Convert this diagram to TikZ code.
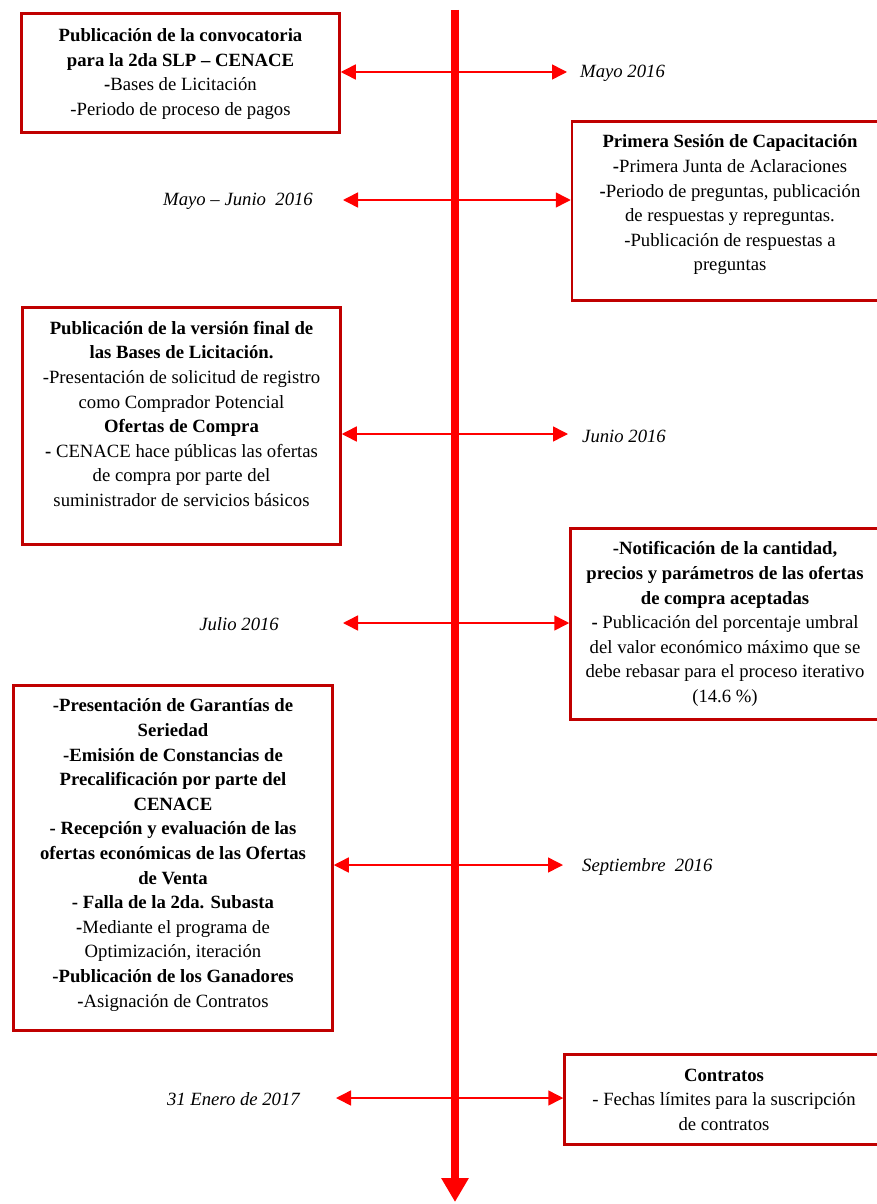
\documentclass[tikz,border=0pt]{standalone}
\usepackage{fontspec}
\setmainfont{Liberation Serif}
\usetikzlibrary{arrows.meta}
\definecolor{boxred}{RGB}{192,0,0}
\definecolor{spinered}{RGB}{255,0,0}

\begin{document}
\begin{tikzpicture}[x=1pt,y=-1pt,
  stage/.style={draw=boxred, line width=2.5pt, inner sep=0pt},
  txt/.style={align=center, inner sep=0pt, font=\fontsize{18.7}{24.6}\selectfont},
  date/.style={inner sep=0pt, font=\fontsize{18.7}{20}\selectfont\itshape},
  link/.style={draw=spinered, line width=1.5pt,
    {Triangle[length=15pt,width=15pt]}-{Triangle[length=15pt,width=15pt]}},
  spine/.style={draw=spinered, line width=8pt,
    -{Triangle[length=24pt,width=26pt]}}]

\useasboundingbox (0,0) rectangle (877,1204);

% time axis
\coordinate (top) at (455,10);
\coordinate (bottom) at (455,1202);
\draw[spine] (top) -- (bottom);

% stage boxes
\node[stage, minimum width=318pt, minimum height=119pt] (b1) at (180.5,73) {};
\node[stage, minimum width=316pt, minimum height=179pt] (b2) at (730,211) {};
\node[stage, minimum width=318pt, minimum height=237pt] (b3) at (181.5,426) {};
\node[stage, minimum width=309pt, minimum height=191pt] (b4) at (725,624) {};
\node[stage, minimum width=319pt, minimum height=345pt] (b5) at (173,858) {};
\node[stage, minimum width=319pt, minimum height=90pt] (b6) at (724,1099.5) {};

% box texts
\node[txt] (t1) at ([yshift=-1pt]b1.center) {\textbf{Publicación de la convocatoria}\\
  \textbf{para la 2da SLP – CENACE}\\
  \textbf{-}Bases de Licitación\\
  -Periodo de proceso de pagos};
\node[txt] (t2) at ([yshift=6pt]b2.center) {\textbf{Primera Sesión de Capacitación}\\
  \textbf{-}Primera Junta de Aclaraciones\\
  \textbf{-}Periodo de preguntas, publicación\\
  de respuestas y repreguntas.\\
  -Publicación de respuestas a\\
  preguntas};
\node[txt] (t3) at ([yshift=12pt]b3.center) {\textbf{Publicación de la versión final de}\\
  \textbf{las Bases de Licitación.}\\
  -Presentación de solicitud de registro\\
  como Comprador Potencial\\
  \textbf{Ofertas de Compra}\\
  \textbf{-} CENACE hace públicas las ofertas\\
  de compra por parte del\\
  suministrador de servicios básicos};
\node[txt] (t4) at (b4.center) {\textbf{-Notificación de la cantidad,}\\
  \textbf{precios y parámetros de las ofertas}\\
  \textbf{de compra aceptadas}\\
  \textbf{-} Publicación del porcentaje umbral\\
  del valor económico máximo que se\\
  debe rebasar para el proceso iterativo\\
  (14.6 \%)};
\node[txt] (t5) at ([yshift=3pt]b5.center) {\textbf{-Presentación de Garantías de}\\
  \textbf{Seriedad}\\
  \textbf{-Emisión de Constancias de}\\
  \textbf{Precalificación por parte del}\\
  \textbf{CENACE}\\
  \textbf{- Recepción y evaluación de las}\\
  \textbf{ofertas económicas de las Ofertas}\\
  \textbf{de Venta}\\
  \textbf{- Falla de la 2da. Subasta}\\
  \textbf{-}Mediante el programa de\\
  Optimización, iteración\\
  \textbf{-Publicación de los Ganadores}\\
  \textbf{-}Asignación de Contratos};
\node[txt] (t6) at (b6.center) {\textbf{Contratos}\\
  - Fechas límites para la suscripción\\
  de contratos};

% dates
\node[date, anchor=west] (d1) at (580,73) {Mayo 2016};
\node[date, anchor=east] (d2) at (313,201) {Mayo – Junio\ \ 2016};
\node[date, anchor=west] (d3) at (582,436) {Junio 2016};
\node[date, anchor=east] (d4) at (279,624) {Julio 2016};
\node[date, anchor=west] (d5) at (582,867) {Septiembre\ \ 2016};
\node[date, anchor=east] (d6) at (300,1099) {31 Enero de 2017};

% free ends of the links next to the dates
\coordinate (e1) at (567,72);
\coordinate (e2) at (343,200);
\coordinate (e3) at (568,434);
\coordinate (e4) at (343,623);
\coordinate (e5) at (563,865);
\coordinate (e6) at (336,1098);

% links between boxes and dates
\draw[link] (b1.east |- e1) -- (e1);
\draw[link] (e2) -- (b2.west |- e2);
\draw[link] (b3.east |- e3) -- (e3);
\draw[link] (e4) -- (b4.west |- e4);
\draw[link] (b5.east |- e5) -- (e5);
\draw[link] (e6) -- (b6.west |- e6);
\end{tikzpicture}
\end{document}
